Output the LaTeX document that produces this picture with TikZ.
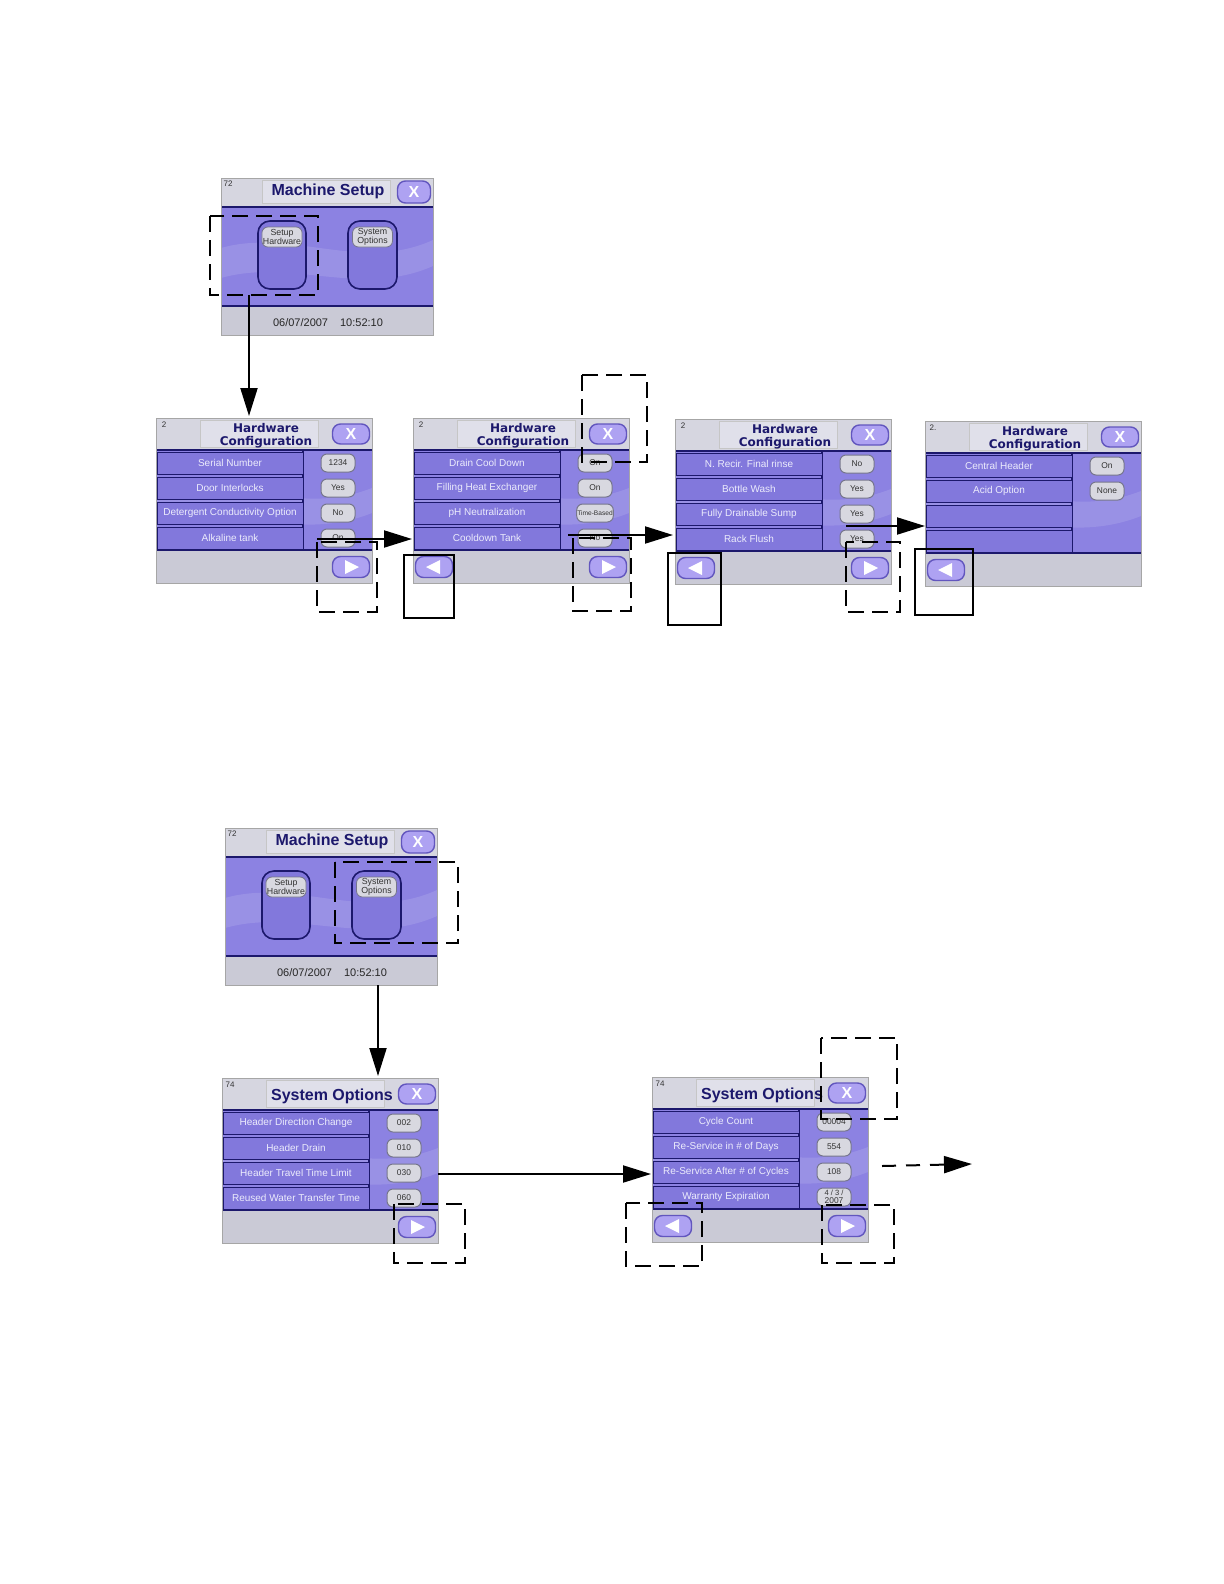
\documentclass[tikz,border=0pt]{standalone}
\usepackage{fontspec}
\setmainfont{Liberation Sans}
\newfontfamily\titlefont{DejaVu Sans}
\usetikzlibrary{arrows.meta}

\definecolor{screengray}{RGB}{214,214,224}
\definecolor{footgray}{RGB}{202,202,214}
\definecolor{titlegray}{RGB}{224,224,234}
\definecolor{bodypurple}{RGB}{140,130,226}
\definecolor{rowpurple}{RGB}{130,120,220}
\definecolor{navy}{RGB}{28,24,108}
\definecolor{lavender}{RGB}{174,162,242}
\definecolor{lavedge}{RGB}{98,86,190}
\definecolor{valgray}{RGB}{216,216,224}
\definecolor{valedge}{RGB}{118,118,140}
\definecolor{rowtext}{RGB}{236,236,252}

\newcommand{\hwtitle}{\titlefont\bfseries\fontsize{6}{6.3}\selectfont}
\newcommand{\sotitle}{\bfseries\fontsize{8}{9}\selectfont}

\tikzset{
  flowarrow/.style={line width=1pt,-{Triangle[length=14pt,width=8.5pt]}},
  hotspot/.style={line width=1.3pt,dash pattern=on 8pt off 4pt},
  backspot/.style={line width=1pt},
  screenedge/.style={draw=gray!70,line width=0.5pt},
  titlebox/.style={fill=titlegray,draw=gray!45,line width=0.4pt},
  keycap/.style={fill=lavender,draw=lavedge,line width=0.7pt,rounded corners=4pt,inner sep=0pt},
  keyglyph/.style={text=white,font=\bfseries\fontsize{8}{8}\selectfont,inner sep=0pt},
  tallkey/.style={fill=rowpurple,draw=navy,line width=0.8pt,rounded corners=6pt},
  menulabel/.style={fill=valgray,draw=valedge,line width=0.4pt,rounded corners=3pt,
    minimum width=20pt,minimum height=10pt,inner sep=0.5pt,align=center,
    font=\fontsize{4.4}{4.7}\selectfont,text=black!80},
  rowbox/.style={fill=rowpurple,draw=navy,line width=0.5pt},
  rowlabel/.style={text=rowtext,font=\fontsize{5}{5}\selectfont,inner sep=0pt},
  valuecap/.style={fill=valgray,draw=valedge,line width=0.5pt,rounded corners=3pt,
    minimum width=17pt,minimum height=9pt,inner sep=0.3pt,align=center,
    font=\fontsize{4.2}{4.2}\selectfont,text=black!80},
  pageno/.style={font=\fontsize{4}{4}\selectfont,text=black!80,inner sep=0pt},
  titletext/.style={text=navy,align=center,inner sep=0pt},
  datetext/.style={font=\fontsize{5.5}{6}\selectfont,text=black!85,inner sep=0pt}
}

% list screen (Hardware Configuration / System Options)
\newcommand{\listframe}[3]{%
  \fill[footgray] (0,0) rectangle (216,165);
  \fill[screengray] (0,0) rectangle (216,32);
  \fill[bodypurple] (0,32) rectangle (216,132);
  \fill[white,opacity=0.12] (0,75) .. controls (80,55) and (140,100) .. (216,70)
    -- (216,95) .. controls (140,125) and (80,85) .. (0,105) -- cycle;
  \draw[navy,line width=1.2pt] (0,32) -- (216,32) (0,132) -- (216,132);
  \draw[navy,line width=0.6pt] (147,33) -- (147,132);
  \draw[titlebox] (44,2) rectangle (162,29);
  \node[pageno] at (8,7) {#1};
  \node[titletext,font=#2] at (110,18) {#3};
  \node[keycap,minimum width=18.5pt,minimum height=10pt] at (195,16) {};
  \node[keyglyph] at (195,16) {X};
  \draw[screenedge] (0,0) rectangle (216,165);}
\newcommand{\screenrow}[3]{%
  \draw[rowbox] (1,{9+25*#1}) rectangle (147,{31+25*#1});
  \node[rowlabel] at (74,{20+25*#1}) {#2};
  \node[valuecap] at (182,{20+25*#1}) {#3};}
\newcommand{\emptyrow}[1]{%
  \draw[rowbox] (1,{9+25*#1}) rectangle (147,{31+25*#1});}
\newcommand{\nextkey}{%
  \node[keycap,minimum width=18.5pt,minimum height=10.5pt] at (195,149) {};
  \fill[white] (189,142) -- (203,149) -- (189,156) -- cycle;}
\newcommand{\backkey}{%
  \node[keycap,minimum width=18.5pt,minimum height=10.5pt] at (21,149) {};
  \fill[white] (27,142) -- (13,149) -- (27,156) -- cycle;}

% Machine Setup screen
\newcommand{\setupframe}{%
  \fill[footgray] (0,0) rectangle (212,157);
  \fill[screengray] (0,0) rectangle (212,29);
  \fill[bodypurple] (0,29) rectangle (212,128);
  \fill[white,opacity=0.12] (0,70) .. controls (70,50) and (140,95) .. (212,62)
    -- (212,88) .. controls (140,120) and (70,80) .. (0,100) -- cycle;
  \draw[navy,line width=1.2pt] (0,29) -- (212,29) (0,128) -- (212,128);
  \draw[titlebox] (41,2) rectangle (169,25);
  \node[pageno] at (7,6) {72};
  \node[titletext,font=\sotitle] at (107,13) {Machine Setup};
  \node[keycap,minimum width=16.5pt,minimum height=11pt] at (193,14) {};
  \node[keyglyph] at (193,14) {X};
  \draw[tallkey] (37,43) rectangle (85,111);
  \draw[tallkey] (127,43) rectangle (176,111);
  \node[menulabel] at (61,59) {Setup\\Hardware};
  \node[menulabel] at (151.5,59) {System\\Options};
  \node[datetext] at (107,145) {06/07/2007\hspace{6pt}10:52:10};
  \draw[screenedge] (0,0) rectangle (212,157);}

\begin{document}
\begin{tikzpicture}[x=0.5pt,y=-0.5pt]
\useasboundingbox (0,0) rectangle (1224,1584);

%% ---- Setup Hardware path ----
\begin{scope}[shift={(221,178)}]
  \setupframe
\end{scope}

% Hardware Configuration, page 1
\begin{scope}[shift={(156,418)}]
  \listframe{2}{\hwtitle}{Hardware\\Configuration}
  \screenrow{1}{Serial Number}{1234}
  \screenrow{2}{Door Interlocks}{Yes}
  \screenrow{3}{Detergent Conductivity Option}{No}
  \screenrow{4}{Alkaline tank}{On}
  \nextkey
\end{scope}

% Hardware Configuration, page 2
\begin{scope}[shift={(413,418)}]
  \listframe{2}{\hwtitle}{Hardware\\Configuration}
  \screenrow{1}{Drain Cool Down}{On}
  \screenrow{2}{Filling Heat Exchanger}{On}
  \screenrow{3}{pH Neutralization}{\fontsize{3.3}{3.3}\selectfont Time-Based}
  \screenrow{4}{Cooldown Tank}{No}
  \backkey
  \nextkey
\end{scope}

% Hardware Configuration, page 3
\begin{scope}[shift={(675,419)}]
  \listframe{2}{\hwtitle}{Hardware\\Configuration}
  \screenrow{1}{N. Recir. Final rinse}{No}
  \screenrow{2}{Bottle Wash}{Yes}
  \screenrow{3}{Fully Drainable Sump}{Yes}
  \screenrow{4}{Rack Flush}{Yes}
  \backkey
  \nextkey
\end{scope}

% Hardware Configuration, page 4
\begin{scope}[shift={(925,421)}]
  \listframe{2.}{\hwtitle}{Hardware\\Configuration}
  \screenrow{1}{Central Header}{On}
  \screenrow{2}{Acid Option}{None}
  \emptyrow{3}
  \emptyrow{4}
  \backkey
\end{scope}

% hot spots
\draw[hotspot] (210,216) rectangle (318,295);
\draw[hotspot] (317,542) rectangle (377,612);
\draw[hotspot] (582,375) rectangle (647,462);
\draw[hotspot] (573,538) rectangle (631,611);
\draw[hotspot] (846,542) rectangle (900,612);
\draw[backspot] (404,555) rectangle (454,618);
\draw[backspot] (668,553) rectangle (721,625);
\draw[backspot] (915,549) rectangle (973,615);

% links
\coordinate (ms1-link) at (249,295);
\coordinate (hw1-top) at (249,416);
\coordinate (hw1-link) at (317,539);
\coordinate (hw2-edge) at (412,539);
\coordinate (hw2-link) at (568,535);
\coordinate (hw3-edge) at (673,535);
\coordinate (hw3-link) at (846,526);
\coordinate (hw4-edge) at (925,526);
\draw[flowarrow] (ms1-link) -- (hw1-top);
\draw[flowarrow] (hw1-link) -- (hw2-edge);
\draw[flowarrow] (hw2-link) -- (hw3-edge);
\draw[flowarrow] (hw3-link) -- (hw4-edge);

%% ---- System Options path ----
\begin{scope}[shift={(225,828)}]
  \setupframe
\end{scope}

% System Options, page 1
\begin{scope}[shift={(222,1078)}]
  \listframe{74}{\sotitle}{System Options}
  \screenrow{1}{Header Direction Change}{002}
  \screenrow{2}{Header Drain}{010}
  \screenrow{3}{Header Travel Time Limit}{030}
  \screenrow{4}{Reused Water Transfer Time}{060}
  \nextkey
\end{scope}

% System Options, page 2
\begin{scope}[shift={(652,1077)}]
  \listframe{74}{\sotitle}{System Options}
  \screenrow{1}{Cycle Count}{00004}
  \screenrow{2}{Re-Service in \# of Days}{554}
  \screenrow{3}{Re-Service After \# of Cycles}{108}
  \screenrow{4}{Warranty Expiration}{\fontsize{3.8}{4}\selectfont 4 / 3 /\\2007}
  \backkey
  \nextkey
\end{scope}

% hot spots
\draw[hotspot] (335,862) rectangle (458,943);
\draw[hotspot] (394,1204) rectangle (465,1263);
\draw[hotspot] (821,1038) rectangle (897,1119);
\draw[hotspot] (626,1203) rectangle (702,1266);
\draw[hotspot] (822,1205) rectangle (894,1263);

% links
\coordinate (ms2-link) at (378,985);
\coordinate (so1-top) at (378,1076);
\coordinate (so1-link) at (438,1174);
\coordinate (so2-edge) at (651,1174);
\coordinate (so2-link) at (882,1166);
\coordinate (so-more) at (972,1164);
\draw[flowarrow] (ms2-link) -- (so1-top);
\draw[flowarrow] (so1-link) -- (so2-edge);
\draw[flowarrow,dash pattern=on 7pt off 5pt] (so2-link) -- (so-more);

\end{tikzpicture}
\end{document}
